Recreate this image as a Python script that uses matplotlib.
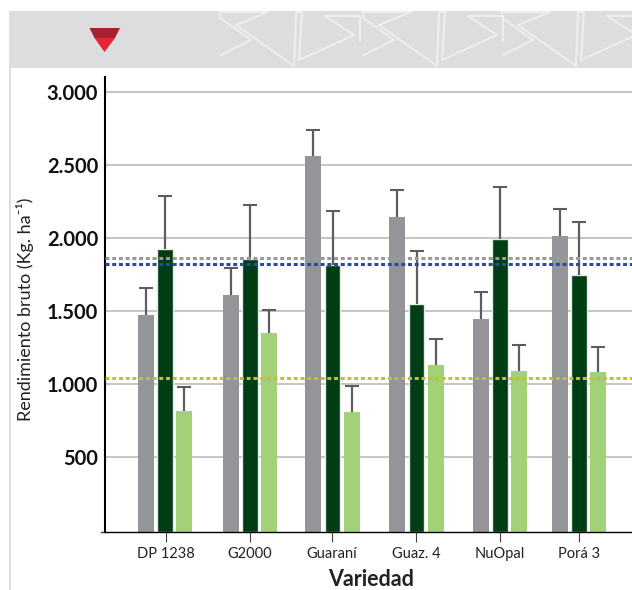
import matplotlib
matplotlib.use('Agg')
import matplotlib.pyplot as plt
from matplotlib.patches import Polygon, Rectangle

W, H = 632, 590

varieties = ['DP 1238', 'G2000', 'Guaraní', 'Guaz. 4', 'NuOpal', 'Porá 3']
gray_vals = [1475, 1612, 2564, 2146, 1447, 2016]
gray_err = [1660, 1799, 2742, 2331, 1634, 2200]
dark_vals = [1927, 1858, 1819, 1552, 1997, 1749]
dark_err = [2290, 2228, 2189, 1913, 2351, 2112]
light_vals = [817, 1351, 810, 1132, 1091, 1084]
light_err = [982, 1509, 988, 1310, 1269, 1255]
mean_gray = 1865
mean_blue = 1822
mean_olive = 1043
y_ticks = [500, 1000, 1500, 2000, 2500, 3000]
y_labels = ['500', '1.000', '1.500', '2.000', '2.500', '3.000']

# x axis runs in pixels, the groups are not evenly spaced in the original
gray_x = [146, 231, 313, 397, 481, 560]
dark_x = [165, 250, 332.5, 416.5, 500, 579]
light_x = [184, 269, 351.5, 436, 519, 598]
label_x = [166, 250, 332, 416, 500, 579]

sans = ['Lato', 'DejaVu Sans']

fig = plt.figure(figsize=(W / 100, H / 100), dpi=100)
fig.patch.set_facecolor('white')

# page decoration, drawn in pixel coordinates
bg = fig.add_axes([0, 0, 1, 1])
bg.set_xlim(0, W)
bg.set_ylim(H, 0)
bg.axis('off')
bg.add_patch(Rectangle((9, 11), W - 9, 57, fc='#dcddde', ec='none'))
bg.plot([10, 10], [68, H], color='#dcddde', lw=1.5)
bg.add_patch(Polygon([(89.5, 28), (120, 28), (115, 38), (94.5, 38)], fc='#ab2030', ec='none'))
bg.add_patch(Polygon([(94.5, 38), (115, 38), (104.5, 52)], fc='#e52533', ec='none'))

motif = [
    [(220, 12), (268, 12), (236, 25), (294, 66), (296, 12), (302, 12), (299, 60), (354, 35),
     (325, 16), (360, 16), (360, 41)],
    [(220, 12), (220, 18), (251, 40), (221, 55)],
]
for dx in [0, 143, 282]:
    for path in motif:
        bg.plot([p[0] + dx for p in path], [p[1] for p in path], color='#eeeeef', lw=1.5)

# little mark left of the axis foot
bg.plot([101, 105], [532, 532], color='#6b2a5a', lw=1)

ax = fig.add_axes([105 / W, 1 - 532 / H, 527 / W, 455 / H])
ax.patch.set_alpha(0)
ax.set_xlim(105, 632)
# 0 sits a little above the axis line in the original
base = -11
ax.set_ylim(base, 3105)

ax.hlines(y_ticks, 105, 632, color='#c4c5c7', lw=1.4, zorder=1)

ax.bar(gray_x, [v - base for v in gray_vals], width=16, bottom=base, color='#939598', zorder=2)
ax.bar(dark_x, [v - base for v in dark_vals], width=15.5, bottom=base, color='#003c14',
       edgecolor='#e4ebe4', linewidth=1, zorder=2)
ax.bar(light_x, [v - base for v in light_vals], width=16, bottom=base, color='#a3d177', zorder=2)

for xs, vals, tops in [(gray_x, gray_vals, gray_err), (dark_x, dark_vals, dark_err),
                       (light_x, light_vals, light_err)]:
    eb = ax.errorbar(xs, vals, yerr=[[0] * len(vals), [t - v for t, v in zip(tops, vals)]], fmt='none',
                     ecolor='#5d5d5f', elinewidth=1.6, capsize=5.2, capthick=1.5, zorder=3)
    # only the upper cap is drawn
    eb[1][0].set_visible(False)

dash = (0, (1.3, 0.9))
ax.axhline(mean_gray, color='#999a9c', lw=2.2, ls=dash, zorder=4)
ax.axhline(mean_blue, color='#274b9f', lw=2.2, ls=dash, zorder=4)
ax.axhline(mean_olive, color='#c2c22f', lw=2.2, ls=dash, zorder=4)

for side in ['top', 'right']:
    ax.spines[side].set_visible(False)
ax.spines['left'].set_linewidth(1.5)
ax.spines['bottom'].set_linewidth(1.0)

ax.set_yticks(y_ticks)
ax.set_yticklabels(y_labels, family=sans, fontweight='bold', fontsize=14.5, color='#111111')
ax.tick_params(axis='y', length=0, pad=5)
ax.set_xticks(label_x)
ax.set_xticklabels(varieties, family=sans, fontsize=10.5, color='#222222')
ax.tick_params(axis='x', length=7, width=0.8, color='#444444', pad=4)

bg.text(371, 579, 'Variedad', family=sans, fontweight='bold', fontsize=15.5, ha='center', va='center', color='#222222')
bg.text(25, 309, 'Rendimiento bruto (Kg. ha⁻¹)', family=sans, fontsize=13, rotation=90,
        ha='center', va='center', color='#222222')

fig.savefig('out.png', dpi=100)
